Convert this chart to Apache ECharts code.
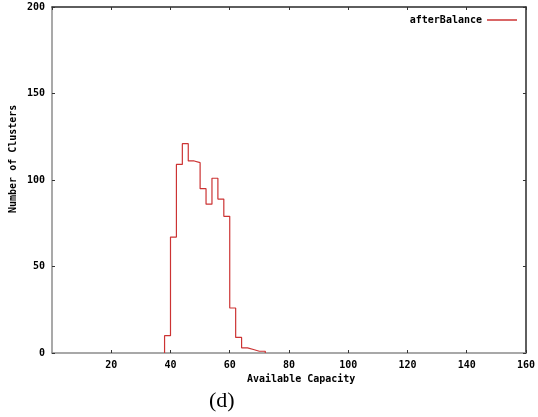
<!DOCTYPE html>
<html><head><meta charset="utf-8">
<script src="https://cdn.jsdelivr.net/npm/echarts@6/dist/echarts.min.js"></script>
<style>html,body{margin:0;padding:0;background:#fff}#c{width:538px;height:417px}</style>
</head><body><div id="c"></div>
<script>
// Histogram bins (left edge, width 2) and counts
const binEdges = [38,40,42,44,46,48,50,52,54,56,58,60,62,64,66,68,70];
const counts   = [10,67,109,121,111,110,95,86,101,89,79,26,9,3,2,1,1];
const binEnd = 72;
const seriesName = 'afterBalance';
const xTicks = [0,20,40,60,80,100,120,140,160];
const yTicks = [0,50,100,150,200];

const pts = [[binEdges[0],0]];
binEdges.forEach((x,i)=>pts.push([x,counts[i]]));
pts.push([binEnd,0]);

const font = '"DejaVu Sans Mono", monospace';
const grayAxis = '#8c8c8c';
const darkAxis = '#2a2a2a';
const chart = echarts.init(document.getElementById('c'), null, {renderer:'canvas'});
function mkX(pos, color, labels){
  return {type:'value',position:pos,min:xTicks[0],max:xTicks[xTicks.length-1],interval:20,
    axisLine:{show:true,onZero:false,lineStyle:{color:color,width:1.5}},
    axisTick:{show:true,inside:true,length:3,lineStyle:{color:'#333',width:1}},
    axisLabel:{show:labels,showMinLabel:false,color:'#000',fontFamily:font,fontWeight:'bold',fontSize:10,margin:7},
    splitLine:{show:false}};
}
function mkY(pos, color, labels){
  return {type:'value',position:pos,min:yTicks[0],max:yTicks[yTicks.length-1],interval:50,
    axisLine:{show:true,onZero:false,lineStyle:{color:color,width:1.5}},
    axisTick:{show:true,inside:true,length:3,lineStyle:{color:'#333',width:1}},
    axisLabel:{show:labels,color:'#000',fontFamily:font,fontWeight:'bold',fontSize:10,margin:7},
    splitLine:{show:false}};
}
chart.setOption({
  animation:false,
  grid:{left:52,right:10,top:7,bottom:64,containLabel:false},
  xAxis:[mkX('bottom',grayAxis,true), mkX('top',darkAxis,false)],
  yAxis:[mkY('left',grayAxis,true), mkY('right',darkAxis,false)],
  legend:{show:true,right:16,top:10,align:'right',icon:'rect',itemWidth:30,itemHeight:1.5,itemGap:5,
    textStyle:{fontFamily:font,fontWeight:'bold',fontSize:10,color:'#000'},
    data:[seriesName]},
  series:[{name:seriesName,type:'line',step:'end',data:pts,symbol:'none',xAxisIndex:0,yAxisIndex:0,z:5,
    lineStyle:{color:'#cc3333',width:1.2},itemStyle:{color:'#cc3333'}}],
  graphic:[
    {type:'text',left:247,top:374,style:{text:'Available Capacity',fontFamily:font,fontWeight:'bold',fontSize:10,fill:'#000'}},
    {type:'text',x:8,y:213,rotation:Math.PI/2,style:{text:'Number of Clusters',fontFamily:font,fontWeight:'bold',fontSize:10,fill:'#000'}},
    {type:'text',left:209,top:390,style:{text:'(d)',fontFamily:'"Liberation Serif", serif',fontSize:22,fill:'#000'}}
  ]
});
</script></body></html>
